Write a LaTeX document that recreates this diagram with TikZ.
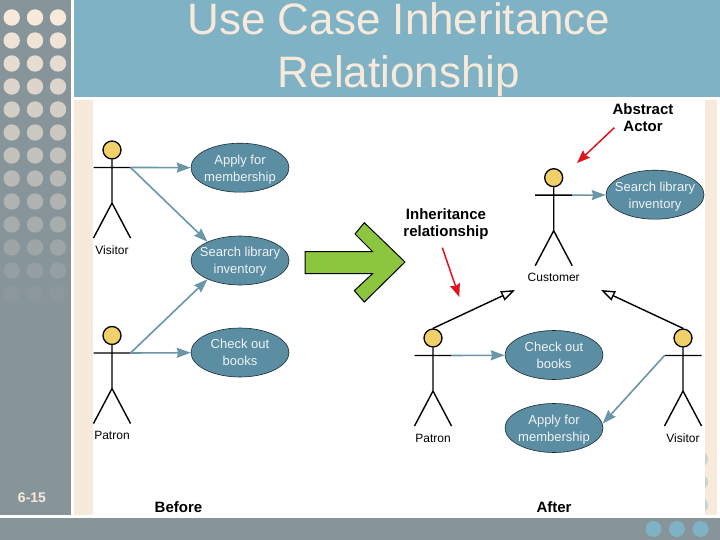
\documentclass[tikz,border=0pt]{standalone}
\usepackage{fontspec}
\setmainfont{Liberation Sans}
\usetikzlibrary{shapes.geometric,arrows.meta}
\definecolor{slategrey}{HTML}{87949A}
\definecolor{titleblue}{HTML}{7FB2C5}
\definecolor{creamy}{HTML}{F8EADB}
\definecolor{usecaseblue}{HTML}{5B8DA3}
\definecolor{assocblue}{HTML}{6A97A8}
\definecolor{headyellow}{HTML}{F0D068}
\definecolor{bigarrow}{HTML}{8CC63F}
\definecolor{notered}{HTML}{E0141E}
\tikzset{
  x=1pt,y=-1pt,
  head/.style={shape=circle,draw=black,line width=1.3pt,fill=headyellow,minimum size=18pt,inner sep=0pt},
  stick/.style={draw=black,line width=1.4pt},
  usecase/.style={shape=ellipse,draw=black!70!usecaseblue,line width=.6pt,fill=usecaseblue,
    minimum width=98pt,minimum height=49pt,inner sep=0pt},
  casetext/.style={text=white!90!usecaseblue,align=center,inner sep=0pt,font=\fontsize{13}{17}\selectfont},
  casetextlow/.style={casetext,yshift=-1.5pt},
  assoc/.style={draw=assocblue,line width=1.6pt,-{Stealth[inset=1.5pt,length=14pt,width=10pt]}},
  inherit/.style={draw=black,line width=1.4pt,-{Triangle[open,length=14pt,width=10pt,fill=white]}},
  note/.style={draw=notered,line width=1.5pt,-{Stealth[inset=1.5pt,length=13pt,width=10pt]}},
  actorlabel/.style={font=\fontsize{12}{14}\selectfont,inner sep=0pt},
  boldlabel/.style={font=\fontsize{15}{17}\selectfont\bfseries,align=center,inner sep=0pt},
}
\newcommand{\actorfig}[4]{
\begin{scope}[shift={(#2,#3)}]
\node[head] (#1) at (0,0) {};
\coordinate (#1L) at (-18.5,17.5);
\coordinate (#1R) at (18.5,17.5);
\coordinate (#1H) at (0,53);
\draw[stick] (#1L) -- (#1R) (#1) -- (#1H) (-18.5,88) -- (#1H) -- (18.5,88);
\node[actorlabel] (#1T) at (0,100) {#4};
\end{scope}
}
\begin{document}
\begin{tikzpicture}
\useasboundingbox (0,0) rectangle (720,540);
\fill[white] (0,0) rectangle (720,540);
\fill[slategrey] (0,0) rectangle (71,514.5);
\fill[slategrey] (0,517.5) rectangle (720,540);
\fill[titleblue] (74,0) rectangle (720,97);
\fill[creamy] (74,100) rectangle (93,514.5);
\fill[creamy] (705,100) rectangle (717,514.5);
\foreach \r in {0,...,12}{
  \pgfmathtruncatemacro{\mixval}{100-\r*8}
  \foreach \c in {11.7,35,58}
    \fill[creamy!\mixval!slategrey] (\c,17.5+23*\r) circle (8.2);
}
\foreach \r in {459,482,505}
  \fill[titleblue!40!creamy] (700,\r) circle (8);
\fill[white] (93,100) rectangle (705,514.5);
\foreach \c in {653.5,677,700.5}
  \fill[titleblue] (\c,529) circle (8);
\node[text=creamy,align=center,font=\fontsize{44}{53}\selectfont,inner sep=0pt] (title) at (399,50) {Use Case Inheritance\\Relationship};
\node[text=creamy,font=\fontsize{14}{16}\selectfont\bfseries,inner sep=0pt] (pagenum) at (32,498) {6-15};

\actorfig{visitorA}{112}{150}{Visitor}
\actorfig{patronA}{112}{335.5}{Patron}
\node[usecase,label={[casetextlow]center:{Apply for\\membership}}] (applyA) at (240,167.7) {};
\node[usecase,label={[casetextlow]center:{Search library\\inventory}}] (searchA) at (240,260.5) {};
\node[usecase,label={[casetext]center:{Check out\\books}}] (checkA) at (240,352.5) {};
\draw[assoc] (visitorAR) -- (applyA);
\draw[assoc] (visitorAR) -- (searchA.150);
\draw[assoc] (patronAR) -- (searchA.210);
\draw[assoc] (patronAR) -- (checkA);
\node[boldlabel] (before) at (178.5,507) {Before};

\draw[draw=black,line width=1pt,fill=bigarrow] (305,251.7) -- (372.7,251.7) -- (355,234) -- (364.3,222.7) -- (405,262)
  -- (364.3,302) -- (354.3,290.7) -- (372.7,273.5) -- (305,273.5) -- cycle;

\actorfig{customerB}{553.7}{177.7}{Customer}
\actorfig{patronB}{433}{338}{Patron}
\actorfig{visitorB}{683}{338}{Visitor}
\node[usecase,label={[casetextlow]center:{Search library\\inventory}}] (searchB) at (655,194.7) {};
\node[usecase,label={[casetext]center:{Check out\\books}}] (checkB) at (554,355) {};
\node[usecase,label={[casetextlow]center:{Apply for\\membership}}] (applyB) at (554,428) {};
\draw[assoc] (customerBR) -- (searchB);
\draw[assoc] (patronBR) -- (checkB);
\draw[assoc] (visitorBL) -- (applyB.5);
\coordinate (genL) at (515,290);
\coordinate (genR) at (601,290);
\draw[inherit] (patronB.north) -- (genL);
\draw[inherit] (visitorB.north) -- (genR);
\node[boldlabel] (after) at (554,507) {After};

\node[boldlabel] (inhlabel) at (446,224.5) {Inheritance\\relationship};
\node[boldlabel] (abslabel) at (643,117.5) {Abstract\\Actor};
\coordinate (inhstart) at (442.3,247.7);
\coordinate (absstart) at (614.3,127.7);
\coordinate (inhtip) at (459.3,297);
\coordinate (abstip) at (577,163);
\draw[note] (inhstart) -- (inhtip);
\draw[note] (absstart) -- (abstip);
\end{tikzpicture}
\end{document}
